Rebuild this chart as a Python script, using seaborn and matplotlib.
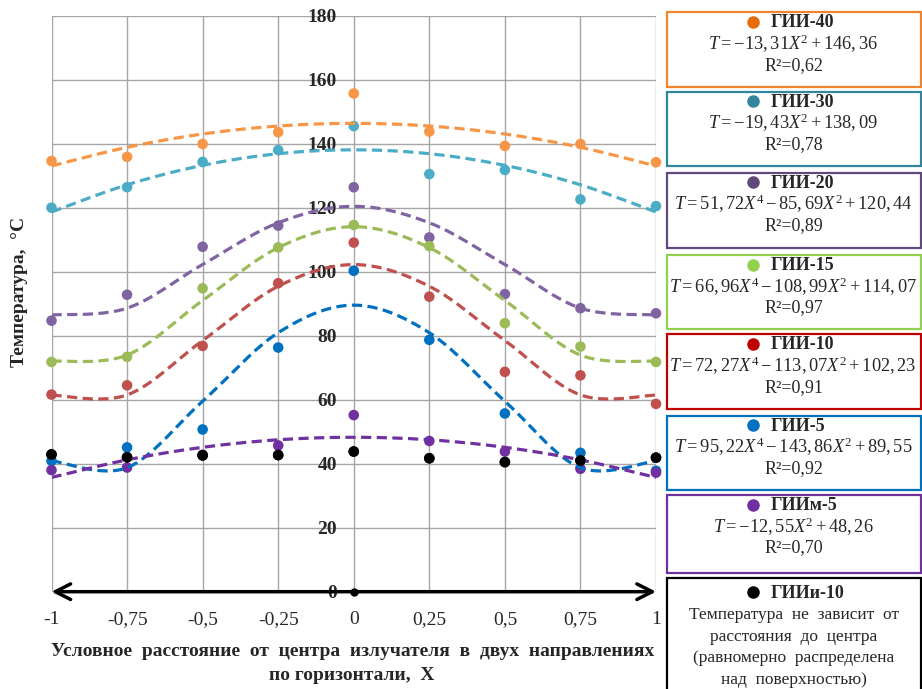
import numpy as np
import pandas as pd
import matplotlib
matplotlib.use("Agg")
import matplotlib.pyplot as plt
import seaborn as sns
from matplotlib.patches import Rectangle

# ---------------- data ----------------
x_vals = [-1, -0.75, -0.5, -0.25, 0, 0.25, 0.5, 0.75, 1]
x_ticklabels = ["-1", "-0,75", "-0,5", "-0,25", "0", "0,25", "0,5", "0,75", "1"]
y_ticks = [0, 20, 40, 60, 80, 100, 120, 140, 160, 180]

series_names = ["ГИИ-40", "ГИИ-30", "ГИИ-20", "ГИИ-15", "ГИИ-10", "ГИИ-5", "ГИИм-5", "ГИИи-10"]
gii40 = [134.6, 135.9, 139.9, 143.6, 155.7, 143.8, 139.3, 139.9, 134.2]
gii30 = [120.0, 126.4, 134.3, 138.0, 145.5, 130.5, 131.8, 122.6, 120.5]
gii20 = [84.7, 92.8, 107.8, 114.4, 126.4, 110.7, 93.0, 88.6, 87.0]
gii15 = [71.8, 73.4, 94.8, 107.6, 114.6, 108.0, 83.9, 76.6, 71.8]
gii10 = [61.6, 64.5, 76.8, 96.4, 109.1, 92.2, 68.7, 67.6, 58.7]
gii5 = [40.9, 45.1, 50.7, 76.3, 100.3, 78.7, 55.7, 43.4, 37.8]
giim5 = [38.0, 38.8, 42.8, 45.7, 55.2, 47.1, 43.8, 38.4, 37.2]
giii10 = [42.9, 42.0, 42.6, 42.7, 43.8, 41.7, 40.5, 41.0, 41.9]

# trend-line coefficients [X^4, X^2, const] as printed in the legend
coef40 = [0, -13.31, 146.36]
coef30 = [0, -19.43, 138.09]
coef20 = [51.72, -85.69, 120.44]
coef15 = [66.96, -108.99, 114.07]
coef10 = [72.27, -113.07, 102.23]
coef5 = [95.22, -143.86, 89.55]
coefm5 = [0, -12.55, 48.26]

equations = [
    r"$T=-13,31X^{2}+146,36$",
    r"$T=-19,43X^{2}+138,09$",
    r"$T=51,72X^{4}-85,69X^{2}+120,44$",
    r"$T=66,96X^{4}-108,99X^{2}+114,07$",
    r"$T=72,27X^{4}-113,07X^{2}+102,23$",
    r"$T=95,22X^{4}-143,86X^{2}+89,55$",
    r"$T=-12,55X^{2}+48,26$",
]
r2_labels = ["R²=0,62", "R²=0,78", "R²=0,89", "R²=0,97", "R²=0,91", "R²=0,92", "R²=0,70"]
note_lines = ["Температура  не  зависит  от", "расстояния  до  центра",
              "(равномерно  распределена", "над  поверхностью)"]

point_colors = ["#F79646", "#4BACC6", "#8064A2", "#9BBB59", "#C0504D", "#0070C0", "#7030A0", "#000000"]
legend_dot_colors = ["#E46C0A", "#31859C", "#5F497A", "#92D050", "#C00000", "#0070C0", "#7030A0", "#000000"]
box_colors = ["#F0852D", "#31859C", "#604A7B", "#92D050", "#C00000", "#0070C0", "#7030A0", "#000000"]

all_vals = [gii40, gii30, gii20, gii15, gii10, gii5, giim5, giii10]
all_coefs = [coef40, coef30, coef20, coef15, coef10, coef5, coefm5]

# ---------------- style ----------------
sns.set_theme(style="white")
plt.rcParams["font.family"] = ["Liberation Serif", "DejaVu Serif"]
plt.rcParams["mathtext.fontset"] = "custom"
plt.rcParams["mathtext.rm"] = "Liberation Serif"
plt.rcParams["mathtext.it"] = "Liberation Serif:italic"
plt.rcParams["mathtext.bf"] = "Liberation Serif:bold"

W, H = 922, 689
fig = plt.figure(figsize=(W / 100, H / 100), dpi=100)

def fx(px):
    return px / W

def fy(py):
    return 1 - py / H

ax_l, ax_r, ax_t, ax_b = 51.5, 656, 15.7, 591.7
ax = fig.add_axes([fx(ax_l), fy(ax_b), fx(ax_r - ax_l), (ax_b - ax_t) / H])

# points
pts = pd.DataFrame({
    "x": np.tile(x_vals, len(series_names)),
    "T": np.concatenate(all_vals),
    "series": np.repeat(series_names, len(x_vals)),
})
sns.scatterplot(data=pts, x="x", y="T", hue="series", hue_order=series_names,
                palette=point_colors, s=58, edgecolor="none", linewidth=0,
                legend=False, clip_on=False, zorder=3, ax=ax)


def smooth_curve(xk, yk, n=24):
    """Smoothed (Catmull-Rom) rendering of the trend line through its nodes."""
    xk = np.asarray(xk, float)
    yk = np.asarray(yk, float)
    P = np.column_stack([xk, yk])
    P = np.vstack([P[0], P, P[-1]])
    out = []
    t = np.linspace(0, 1, n, endpoint=False)[:, None]
    for i in range(1, len(P) - 2):
        p0, p1, p2, p3 = P[i - 1], P[i], P[i + 1], P[i + 2]
        seg = 0.5 * ((2 * p1) + (-p0 + p2) * t + (2 * p0 - 5 * p1 + 4 * p2 - p3) * t ** 2
                     + (-p0 + 3 * p1 - 3 * p2 + p3) * t ** 3)
        out.append(seg)
    out.append(P[-2][None, :])
    out = np.vstack(out)
    return out[:, 0], out[:, 1]


# trend lines
xk = np.asarray(x_vals, float)
for name, coef, col in zip(series_names[:7], all_coefs, point_colors[:7]):
    yk = coef[0] * xk ** 4 + coef[1] * xk ** 2 + coef[2]
    xs, ys = smooth_curve(xk, yk)
    sns.lineplot(x=xs, y=ys, color=col, linewidth=2.3, sort=False, estimator=None,
                 linestyle=(0, (3.2, 1.7)), ax=ax, zorder=4)

# re-draw black points on top
sns.scatterplot(x=x_vals, y=giii10, color="black", s=58, edgecolor="none",
                clip_on=False, zorder=5, ax=ax, legend=False)

ax.set_xlim(-1, 1)
ax.set_ylim(0, 180)
ax.set_xticks(x_vals)
ax.set_xticklabels(x_ticklabels)
ax.set_yticks(y_ticks)
ax.set_yticklabels([str(v) for v in y_ticks])
ax.grid(True, color="#A6A6A6", linewidth=1.0)
ax.set_axisbelow(True)
for s in ["top", "right", "bottom"]:
    ax.spines[s].set_visible(False)
ax.spines["left"].set_position(("data", 0))
ax.spines["left"].set_visible(False)
ax.tick_params(axis="both", length=0)
ax.tick_params(axis="y", pad=12, labelsize=14)
ax.tick_params(axis="x", pad=14, labelsize=14)
for lab in ax.get_yticklabels():
    lab.set_fontweight("bold")
ax.set_xlabel("")
ax.set_ylabel("")

# x axis arrow
ax.annotate("", xy=(1, 0), xytext=(-1, 0), xycoords="data",
            arrowprops=dict(arrowstyle="<->,head_length=0.55,head_width=0.28",
                            color="black", lw=2.5, shrinkA=0, shrinkB=0,
                            mutation_scale=20),
            annotation_clip=False, zorder=6)
ax.plot([0], [0], marker="o", color="black", markersize=5, clip_on=False, zorder=7)

# axis titles
fig.text(fx(353), fy(652), "Условное  расстояние  от  центра  излучателя  в  двух  направлениях",
         ha="center", va="center", fontsize=14, fontweight="bold")
fig.text(fx(352), fy(675), "по горизонтали,  X", ha="center", va="center",
         fontsize=14, fontweight="bold")
fig.text(fx(20), fy(292), "Температура,  °С", ha="center", va="center",
         rotation=90, fontsize=14, fontweight="bold")

# legend boxes
box_left, box_right = 667, 921
box_tops = [12.3, 91.7, 172.7, 255, 334.3, 415.7, 495, 578.3]
box_bots = [86.7, 166, 248.3, 329.3, 409.3, 490, 572.7, 700]
cx = (box_left + box_right) / 2
for i, name in enumerate(series_names):
    t, b = box_tops[i], box_bots[i]
    fig.patches.append(Rectangle((fx(box_left), fy(b)), fx(box_right - box_left), (b - t) / H,
                                 transform=fig.transFigure, fill=False,
                                 edgecolor=box_colors[i], linewidth=1.6))
    ty = t + (10.5 if i < 7 else 15)
    fig.text(fx(771), fy(ty), name, ha="left", va="center", fontsize=13, fontweight="bold")
    fig.lines.append(plt.Line2D([fx(753)], [fy(ty - 1)], transform=fig.transFigure,
                                marker="o", markersize=8, color=legend_dot_colors[i],
                                linestyle="none"))
    if i < 7:
        fig.text(fx(cx - 1), fy(t + 31.5), equations[i], ha="center", va="center", fontsize=13.2)
        fig.text(fx(cx), fy(t + 53), r2_labels[i], ha="center", va="center", fontsize=13)
    else:
        for k, line in enumerate(note_lines):
            fig.text(fx(cx), fy(t + 37 + 21.6 * k), line, ha="center", va="center", fontsize=12.5)

fig.savefig("out.png", dpi=100)
